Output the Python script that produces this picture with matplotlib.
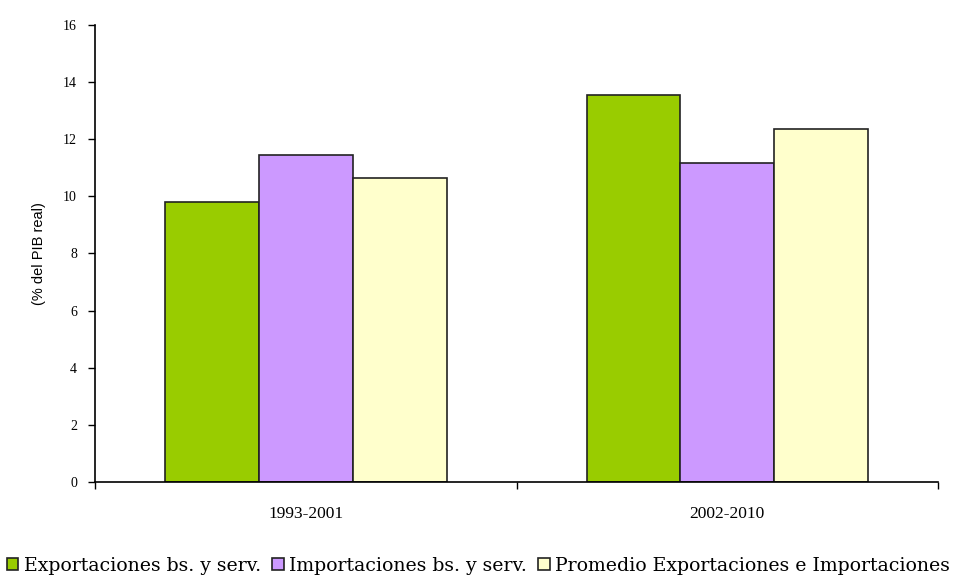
import matplotlib
matplotlib.use('Agg')
import matplotlib.pyplot as plt
import numpy as np

# Datos
periodos = ['1993-2001', '2002-2010']
series = ['Exportaciones bs. y serv.', 'Importaciones bs. y serv.',
          'Promedio Exportaciones e Importaciones']
exportaciones = [9.8, 13.55]
importaciones = [11.45, 11.15]
promedio = [10.65, 12.35]
colores = ['#99CC00', '#CC99FF', '#FFFFCC']
y_ticks = [0, 2, 4, 6, 8, 10, 12, 14, 16]

fig = plt.figure(figsize=(9.57, 5.80), dpi=100)
ax = fig.add_axes([0.0993, 0.169, 0.881, 0.788])

x = np.arange(len(periodos))
ancho = 0.2225
valores = [exportaciones, importaciones, promedio]
for i, (vals, nombre, col) in enumerate(zip(valores, series, colores)):
    ax.bar(x + (i - 1) * ancho, vals, width=ancho, color=col,
           edgecolor='#222222', linewidth=1.2, label=nombre, zorder=2)

ax.set_xlim(-0.5, 1.5)
ax.set_ylim(0, 16)
ax.set_yticks(y_ticks)
ax.set_yticklabels([str(t) for t in y_ticks], family='Liberation Serif', fontsize=10)

# ticks del eje x en los limites de categoria, etiquetas centradas
ax.set_xticks([-0.5, 0.5, 1.5])
ax.set_xticklabels([])
ax.set_xticks(x, minor=True)
ax.set_xticklabels(periodos, minor=True, family='Liberation Serif', fontsize=12.5)
ax.tick_params(axis='x', which='minor', length=0, pad=17)
ax.tick_params(axis='x', which='major', length=5, direction='out', width=1)
ax.tick_params(axis='y', length=5, direction='out', width=1, pad=8)

ax.spines['top'].set_visible(False)
ax.spines['right'].set_visible(False)
ax.spines['left'].set_linewidth(1.2)
ax.spines['bottom'].set_linewidth(1.2)

ax.set_ylabel('(% del PIB real)', family='Liberation Sans', fontsize=10.5, labelpad=12)

fig.legend(loc='lower center', bbox_to_anchor=(0.5, -0.02), ncol=3, frameon=False,
           prop={'family': 'DejaVu Serif', 'size': 13.6}, handlelength=0.6,
           handleheight=0.6, handletextpad=0.3, columnspacing=0.6)

plt.savefig('out.png', dpi=100)
